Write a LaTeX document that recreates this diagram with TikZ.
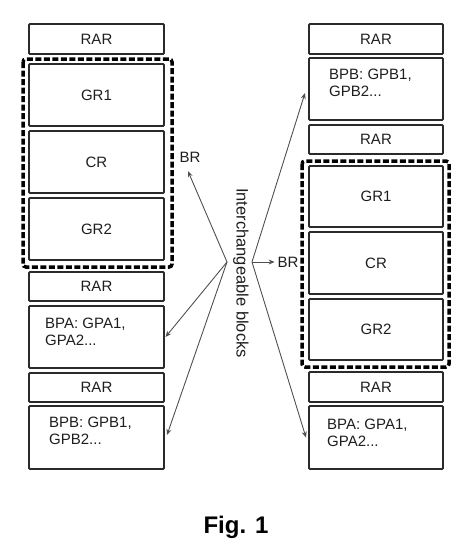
\documentclass[tikz,border=0pt]{standalone}
\usepackage{fontspec}
\setmainfont{Liberation Sans}
\usetikzlibrary{arrows.meta}
\definecolor{boxline}{HTML}{2A2A2A}
\definecolor{txt}{HTML}{1E1E1E}
\definecolor{arr}{HTML}{505050}
\begin{document}
\begin{tikzpicture}[x=1pt,y=-1pt,
  blk/.style={draw=boxline,line width=1.8pt,rounded corners=1pt,inner sep=0pt,outer sep=0pt,
    text=txt,font=\fontsize{15}{17}\selectfont},
  bptext/.style={anchor=north west,inner sep=0pt,align=left,text=txt,font=\fontsize{15}{17}\selectfont},
  grp/.style={draw=black,line width=3.5pt,dash pattern=on 6pt off 2.5pt,rounded corners=3pt},
  lbl/.style={text=txt,font=\fontsize{15}{17}\selectfont},
  fan/.style={draw=arr,line width=0.9pt,-{Stealth[length=6pt,width=5pt]}}
]
\useasboundingbox (0,0) rectangle (476,557);
% left column
\node[blk,minimum width=135pt,minimum height=30pt] (rarL1) at (96.5,39) {RAR};
\node[blk,minimum width=135pt,minimum height=62pt] (gr1L) at (96.5,95) {GR1};
\node[blk,minimum width=135pt,minimum height=62pt] (crL) at (96.5,162) {CR};
\node[blk,minimum width=135pt,minimum height=62pt] (gr2L) at (96.5,229) {GR2};
\draw[grp] (23,59) rectangle (172,267);
\node[blk,minimum width=135pt,minimum height=29pt] (rarL2) at (96.5,286.5) {RAR};
\node[blk,minimum width=135pt,minimum height=62pt] (bpaL) at (96.5,337) {};
\node[bptext] (bpaLt) at ([shift={(16,12)}]bpaL.north west) {BPA: GPA1,\\GPA2...};
\node[blk,minimum width=135pt,minimum height=29pt] (rarL3) at (96.5,387.5) {RAR};
\node[blk,minimum width=135pt,minimum height=63pt] (bpbL) at (96.5,437.5) {};
\node[bptext] (bpbLt) at ([shift={(20,10.5)}]bpbL.north west) {BPB: GPB1,\\GPB2...};
% right column
\node[blk,minimum width=134pt,minimum height=30pt] (rarR1) at (376,39) {RAR};
\node[blk,minimum width=134pt,minimum height=62pt] (bpbR) at (376,89) {};
\node[bptext] (bpbRt) at ([shift={(20,10.5)}]bpbR.north west) {BPB: GPB1,\\GPB2...};
\node[blk,minimum width=134pt,minimum height=29pt] (rarR2) at (376,139.5) {RAR};
\node[blk,minimum width=134pt,minimum height=61pt] (gr1R) at (376,196.5) {GR1};
\node[blk,minimum width=134pt,minimum height=62pt] (crR) at (376,263) {CR};
\node[blk,minimum width=134pt,minimum height=61pt] (gr2R) at (376,329.5) {GR2};
\draw[grp] (302,161) rectangle (449,367);
\node[blk,minimum width=134pt,minimum height=30pt] (rarR3) at (376,387) {RAR};
\node[blk,minimum width=134pt,minimum height=63pt] (bpaR) at (376,437.5) {};
\node[bptext] (bpaRt) at ([shift={(18,12.5)}]bpaR.north west) {BPA: GPA1,\\GPA2...};
% middle
\node[text=txt,font=\fontsize{16.5}{18}\selectfont,rotate=-90,inner sep=0pt] (ib) at (241,273) {Interchangeable blocks};
\coordinate (fanL) at (227,262);
\coordinate (fanR) at (252,262);
\node[lbl,inner sep=0pt,outer sep=0pt] (brL) at (190,157) {BR};
\node[lbl,inner sep=0pt,outer sep=3pt] (brR) at (288,262) {BR};
\draw[fan] (fanL) -- ([xshift=-2pt,yshift=-9pt]brL.south);
\draw[fan] (fanL) -- ([xshift=1.5pt]bpaL.east);
\draw[fan] (fanL) -- ([xshift=3pt,yshift=2.5pt]bpbL.east);
\draw[fan] (fanR) -- ([xshift=-4pt,yshift=-4pt]bpbR.west);
\draw[fan] (fanR) -- (brR.west);
\draw[fan] (fanR) -- ([xshift=-3pt]bpaR.west);
% caption
\node[text=black,font=\fontsize{24}{28}\bfseries\selectfont] (cap) at (236,527) {Fig. 1};
\end{tikzpicture}
\end{document}
